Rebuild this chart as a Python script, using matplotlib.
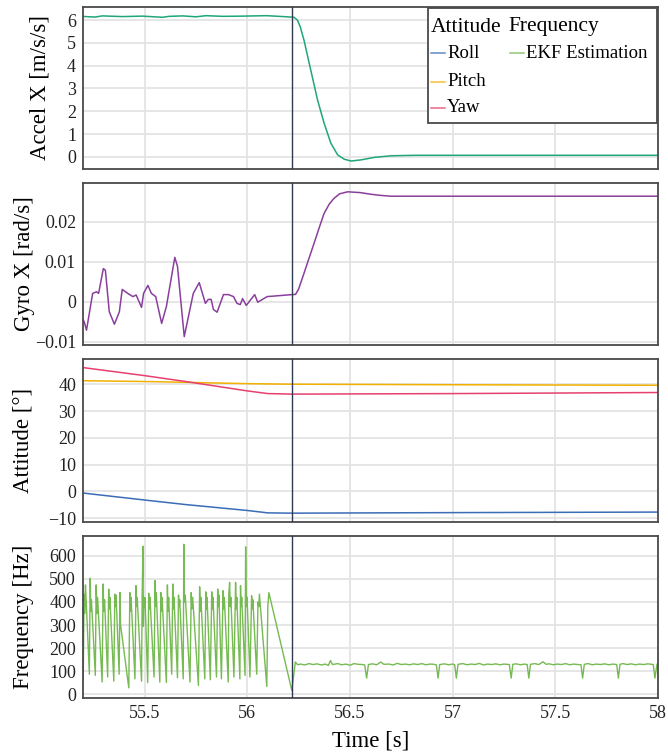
import numpy as np
import matplotlib
matplotlib.use("Agg")
import matplotlib.pyplot as plt
from matplotlib.patches import Rectangle
from matplotlib.lines import Line2D
from matplotlib.ticker import FuncFormatter

plt.rcParams['font.family'] = ['Liberation Serif', 'DejaVu Serif']

# ---- data ----
event_t = 56.22

accel_t = [55.2, 55.211, 55.260, 55.293, 55.391, 55.489, 55.587, 55.620, 55.685, 55.750, 55.799,
           55.881, 55.979, 56.093, 56.175, 56.227, 56.244, 56.258, 56.276, 56.309, 56.342, 56.374,
           56.407, 56.440, 56.472, 56.505, 56.554, 56.619, 56.701, 56.815, 57.5, 58.0]
accel_v = [6.16, 6.15, 6.13, 6.18, 6.15, 6.17, 6.12, 6.16, 6.18, 6.14, 6.19,
           6.16, 6.17, 6.19, 6.15, 6.12, 6.00, 5.70, 5.12, 3.81, 2.50, 1.48,
           0.60, 0.09, -0.10, -0.18, -0.13, -0.02, 0.05, 0.07, 0.07, 0.07]

gyro_t = [55.2, 55.206, 55.217, 55.247, 55.266, 55.276, 55.299, 55.309, 55.328, 55.353, 55.377,
          55.391, 55.418, 55.443, 55.459, 55.485, 55.495, 55.516, 55.533, 55.554, 55.583, 55.606,
          55.647, 55.660, 55.693, 55.737, 55.766, 55.796, 55.810, 55.824, 55.835, 55.853, 55.884,
          55.908, 55.933, 55.950, 55.966, 55.977, 55.995, 56.036, 56.051, 56.097, 56.219, 56.235,
          56.25, 56.276, 56.30, 56.325, 56.35, 56.374, 56.40, 56.423, 56.45, 56.489, 56.55,
          56.60, 56.65, 56.70, 56.734, 57.0, 57.5, 58.0]
gyro_v = [-0.0045, -0.0050, -0.0071, 0.0021, 0.0025, 0.0021, 0.0083, 0.0079, -0.0025, -0.0056, -0.0025,
          0.0031, 0.0021, 0.0013, 0.0017, -0.0014, 0.0021, 0.0041, 0.0021, 0.0013, -0.0054, -0.0012,
          0.0111, 0.0089, -0.0087, 0.0021, 0.0048, -0.0004, 0.0006, 0.0006, -0.0019, -0.0026, 0.0018,
          0.0018, 0.0013, -0.0004, -0.0007, 0.0008, -0.0009, 0.0018, -0.0001, 0.0013, 0.0018, 0.00185,
          0.0032, 0.0071, 0.0108, 0.0146, 0.0185, 0.0221, 0.0245, 0.0259, 0.0270, 0.0275, 0.0273,
          0.0269, 0.0266, 0.0264, 0.0264, 0.0264, 0.0264, 0.0264]

att_t = [55.2, 55.5, 55.7, 56.0, 56.1, 56.22, 57.0, 58.0]
roll = [-0.6, -3.2, -4.9, -7.1, -8.0, -8.1, -7.9, -7.7]
pitch = [41.3, 41.0, 40.7, 40.2, 40.1, 40.0, 39.8, 39.6]
yaw = [46.2, 43.2, 41.0, 37.5, 36.5, 36.3, 36.5, 36.9]

freq_t = [55.201, 55.205, 55.208, 55.212, 55.216,
          55.231, 55.235, 55.238, 55.241,
          55.260, 55.264, 55.268, 55.271,
          55.293, 55.298, 55.301, 55.305,
          55.320, 55.325, 55.328, 55.331,
          55.350, 55.355, 55.358, 55.361,
          55.376, 55.380, 55.383,
          55.423, 55.428, 55.431, 55.434,
          55.453, 55.458, 55.461, 55.464,
          55.485, 55.488, 55.492, 55.494, 55.497, 55.500, 55.502,
          55.515, 55.520, 55.523, 55.526,
          55.546, 55.551, 55.554, 55.557,
          55.574, 55.579, 55.582, 55.585,
          55.606, 55.611, 55.614, 55.617,
          55.632, 55.637, 55.640, 55.643,
          55.660, 55.665, 55.668, 55.671,
          55.688, 55.691, 55.694, 55.698,
          55.721, 55.727, 55.730, 55.734,
          55.762, 55.768, 55.771, 55.774,
          55.793, 55.798, 55.801, 55.804,
          55.820, 55.827, 55.830, 55.833,
          55.850, 55.856, 55.859, 55.862,
          55.874, 55.882, 55.885, 55.888,
          55.907, 55.910, 55.914, 55.917, 55.920,
          55.935, 55.943, 55.946, 55.949,
          55.964, 55.967, 55.970, 55.973,
          55.989, 55.992, 55.995, 55.999,
          56.013, 56.021, 56.024, 56.027,
          56.046, 56.052, 56.056, 56.059,
          56.095, 56.100, 56.105,
          56.217, 56.234, 56.245, 56.26, 56.28, 56.30, 56.32, 56.34, 56.36, 56.38, 56.395,
          56.405, 56.415, 56.44, 56.46, 56.48, 56.50, 56.52, 56.54, 56.56, 56.572, 56.581,
          56.59, 56.61, 56.63, 56.65, 56.665, 56.69, 56.71, 56.73, 56.75, 56.77, 56.79,
          56.81, 56.83, 56.85, 56.87, 56.89, 56.91, 56.921, 56.929, 56.937, 56.96, 56.98,
          57.00, 57.010, 57.018, 57.026, 57.05, 57.07, 57.09, 57.11, 57.13, 57.15, 57.17,
          57.19, 57.21, 57.23, 57.25, 57.276, 57.285, 57.293, 57.31, 57.33, 57.35, 57.363,
          57.371, 57.379, 57.40, 57.42, 57.44, 57.455, 57.47, 57.49, 57.51, 57.53, 57.55,
          57.57, 57.59, 57.61, 57.625, 57.633, 57.641, 57.66, 57.68, 57.70, 57.72, 57.74,
          57.76, 57.78, 57.799, 57.807, 57.815, 57.83, 57.85, 57.87, 57.89, 57.91, 57.93,
          57.95, 57.977, 57.985, 57.995]
freq_v = [63, 434, 350, 474, 395,
          87, 503, 360, 410,
          82, 474, 350, 420,
          53, 478, 360, 410,
          75, 456, 370, 420,
          57, 434, 380, 430,
          87, 441, 300,
          28, 441, 360, 420,
          67, 471, 380, 420,
          57, 420, 642, 295, 420, 380, 419,
          51, 438, 370, 420,
          75, 493, 380, 440,
          53, 441, 360, 420,
          51, 474, 360, 420,
          87, 478, 370, 420,
          72, 430, 380, 410,
          67, 650, 400, 430,
          53, 441, 370, 420,
          38, 466, 360, 420,
          67, 444, 370, 420,
          63, 444, 370, 420,
          75, 456, 380, 430,
          67, 449, 370, 420,
          53, 434, 485, 380, 420,
          75, 485, 370, 420,
          67, 471, 380, 420,
          82, 639, 380, 420,
          75, 427, 370, 410,
          87, 400, 380, 434,
          34, 380, 441,
          16, 140, 128, 131, 127, 133, 129, 132, 127, 131, 125,
          146, 129, 133, 128, 131, 126, 133, 130, 129, 127, 70,
          129, 132, 128, 140, 130, 131, 127, 134, 129, 131, 128,
          132, 129, 133, 128, 131, 130, 127, 70, 129, 132, 128,
          131, 128, 70, 130, 133, 128, 131, 129, 134, 127, 131,
          129, 132, 128, 131, 129, 70, 130, 132, 128, 131, 129,
          70, 130, 133, 129, 141, 130, 132, 128, 131, 129, 133,
          128, 131, 129, 128, 70, 130, 133, 128, 131, 129, 132,
          128, 131, 129, 70, 130, 133, 129, 132, 128, 131, 129,
          132, 129, 70, 130]

# ---- styling ----
c_accel = '#1fa67a'
c_gyro = '#8a3f9d'
c_roll = '#3b6cb6'
c_pitch = '#f2b100'
c_yaw = '#e6406f'
c_freq = '#76ba52'
c_event = '#2f3a52'
grid_c = '#e4e4e4'
tick_fs = 13
label_fs = 16.5

W, H = 668, 753
fig = plt.figure(figsize=(W / 100, H / 100), dpi=100)

def box(top, bottom, left=83, right=658):
    return [left / W, 1 - bottom / H, (right - left) / W, (bottom - top) / H]

ax1 = fig.add_axes(box(7, 169))
ax2 = fig.add_axes(box(183, 345), sharex=ax1)
ax3 = fig.add_axes(box(359, 522), sharex=ax1)
ax4 = fig.add_axes(box(536, 698), sharex=ax1)

fmt = FuncFormatter(lambda v, p: ('%g' % round(v, 6)).replace('-', '\u2212'))

for ax in (ax1, ax2, ax3, ax4):
    ax.grid(True, color=grid_c, linewidth=1.3)
    ax.set_axisbelow(True)
    for s in ax.spines.values():
        s.set_color('#4a4a4a')
        s.set_linewidth(1.3)
    ax.tick_params(length=0, labelsize=tick_fs, labelcolor='#222222', pad=5)
    ax.yaxis.set_major_formatter(fmt)
    ax.axvline(event_t, color=c_event, linewidth=1.0, zorder=3)

ax1.plot(accel_t, accel_v, color=c_accel, linewidth=1.1)
ax1.set_ylim(-0.53, 6.57)
ax1.set_yticks(range(0, 7))
ax1.set_ylabel('Accel X [m/s/s]', fontsize=label_fs)
ax1.yaxis.set_label_coords(-0.057, 0.5)

ax2.plot(gyro_t, gyro_v, color=c_gyro, linewidth=1.1)
ax2.set_ylim(-0.0108, 0.0297)
ax2.set_yticks([-0.01, 0, 0.01, 0.02])
ax2.set_ylabel('Gyro X [rad/s]', fontsize=label_fs)
ax2.yaxis.set_label_coords(-0.083, 0.5)

ax3.plot(att_t, roll, color=c_roll, linewidth=1.1)
ax3.plot(att_t, pitch, color=c_pitch, linewidth=1.1)
ax3.plot(att_t, yaw, color=c_yaw, linewidth=1.1)
ax3.set_ylim(-11.4, 49.4)
ax3.set_yticks(range(-10, 50, 10))
ax3.set_ylabel('Attitude [°]', fontsize=label_fs)
ax3.yaxis.set_label_coords(-0.086, 0.5)

ax4.plot(freq_t, freq_v, color=c_freq, linewidth=1.0)
ax4.set_ylim(-16, 686)
ax4.set_yticks(range(0, 700, 100))
ax4.set_ylabel('Frequency [Hz]', fontsize=label_fs)
ax4.yaxis.set_label_coords(-0.086, 0.5)

ax4.set_xlim(55.2, 58.0)
ax4.set_xticks([55.5, 56, 56.5, 57, 57.5, 58])
ax4.xaxis.set_major_formatter(FuncFormatter(lambda v, p: '%g' % round(v, 3)))
ax4.set_xlabel('Time [s]', fontsize=label_fs, labelpad=6)
for ax in (ax1, ax2, ax3):
    plt.setp(ax.get_xticklabels(), visible=False)

# ---- legend (two columns with headers), drawn in figure pixels ----
def fx(x): return x / W
def fy(y): return 1 - y / H

fig.add_artist(Rectangle((fx(428), fy(123)), (657 - 428) / W, (123 - 8) / H,
                         transform=fig.transFigure, facecolor='white',
                         edgecolor='#4a4a4a', linewidth=1.3, zorder=5))
fig.text(fx(431), fy(27), 'Attitude', fontsize=15.5, va='center', ha='left', zorder=6)
fig.text(fx(508), fy(27), 'Frequency', fontsize=15.5, va='center', ha='left', zorder=6)
entries = [(431, 53, c_roll, 'Roll'), (431, 82, c_pitch, 'Pitch'),
           (431, 108, c_yaw, 'Yaw'), (510, 53, c_freq, 'EKF Estimation')]
for x0, y0, col, lab in entries:
    fig.add_artist(Line2D([fx(x0), fx(x0 + 14)], [fy(y0), fy(y0)], transform=fig.transFigure,
                          color=col, linewidth=1.1, alpha=0.8, zorder=6))
    fig.text(fx(x0 + 16), fy(y0), lab, fontsize=13.5, va='center', ha='left', zorder=6)

fig.savefig('out.png', dpi=100)
